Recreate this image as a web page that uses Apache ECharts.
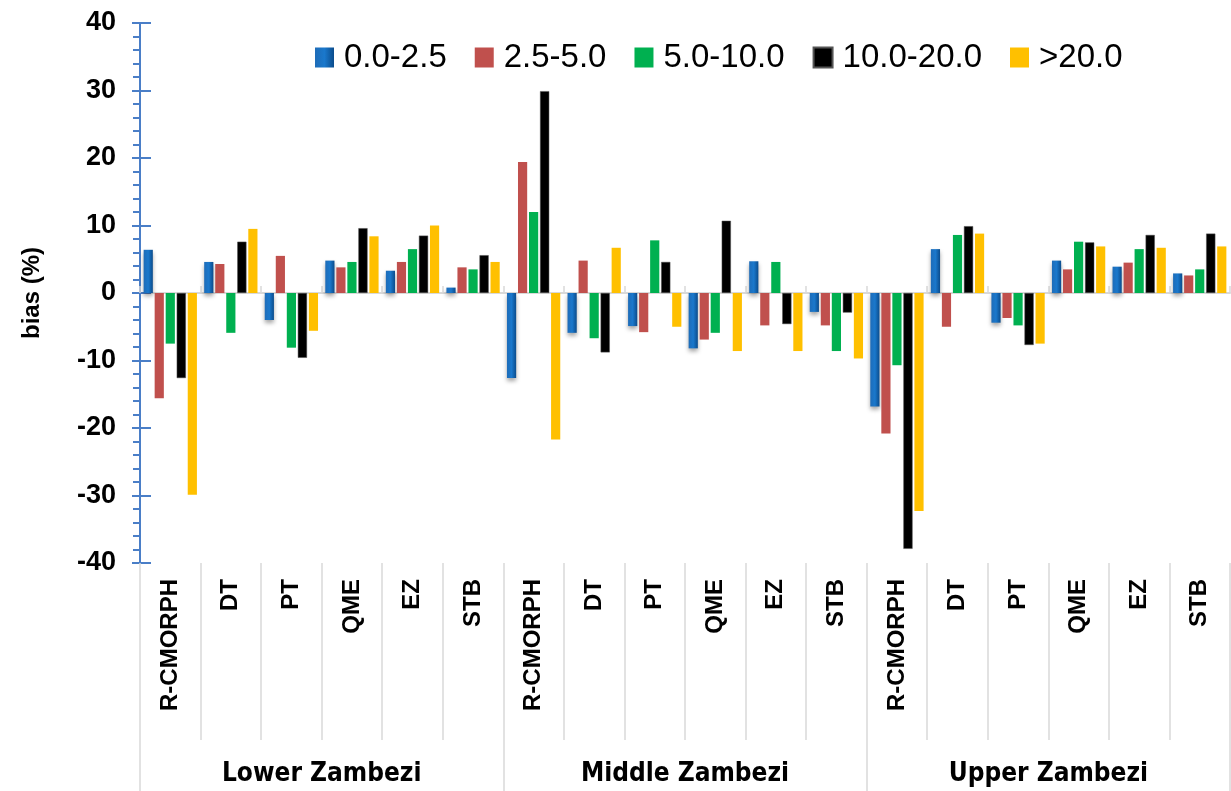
<!DOCTYPE html>
<html>
<head>
<meta charset="utf-8">
<script src="https://cdn.jsdelivr.net/npm/echarts@6/dist/echarts.min.js"></script>
<style>
  html, body { margin: 0; padding: 0; background: #fff; }
  #chart { width: 1231px; height: 791px; }
</style>
</head>
<body>
<div id="chart"></div>
<script>
// categories (products) and regions
var products = ['R-CMORPH', 'DT', 'PT', 'QME', 'EZ', 'STB',
                'R-CMORPH', 'DT', 'PT', 'QME', 'EZ', 'STB',
                'R-CMORPH', 'DT', 'PT', 'QME', 'EZ', 'STB'];
var regions = ['Lower Zambezi', 'Middle Zambezi', 'Upper Zambezi'];
var yTicks = [-40, -30, -20, -10, 0, 10, 20, 30, 40];

// bias (%) per rain class
var names = ['0.0-2.5', '2.5-5.0', '5.0-10.0', '10.0-20.0', '>20.0'];
var bias00_25 = [6.4, 4.6, -4.0, 4.8, 3.3, 0.8, -12.6, -5.9, -4.9, -8.2, 4.7, -2.8, -16.8, 6.5, -4.4, 4.8, 3.9, 2.9];
var bias25_50 = [-15.6, 4.3, 5.5, 3.8, 4.6, 3.8, 19.4, 4.8, -5.8, -6.9, -4.8, -4.8, -20.8, -5.0, -3.7, 3.5, 4.5, 2.6];
var bias50_100 = [-7.5, -5.9, -8.1, 4.6, 6.5, 3.5, 12.0, -6.7, 7.8, -5.9, 4.6, -8.6, -10.7, 8.6, -4.8, 7.6, 6.5, 3.5];
var bias100_200 = [-12.6, 7.6, -9.6, 9.6, 8.5, 5.6, 29.9, -8.8, 4.6, 10.7, -4.6, -2.9, -37.9, 9.9, -7.7, 7.5, 8.6, 8.8];
var bias200 = [-29.9, 9.5, -5.6, 8.4, 10.0, 4.6, -21.7, 6.7, -5.0, -8.6, -8.6, -9.7, -32.3, 8.8, -7.5, 6.9, 6.7, 6.9];

var allData = [bias00_25, bias25_50, bias50_100, bias100_200, bias200];

var blueGrad = new echarts.graphic.LinearGradient(0, 0, 1, 0, [
    { offset: 0, color: '#1E6CB8' },
    { offset: 0.5, color: '#1A78CC' },
    { offset: 1, color: '#0B4C8C' }
]);
var colors = [blueGrad, '#C0504D', '#00B050', '#000000', '#FFC000'];

var boldFont = "'Liberation Sans', Arial, sans-serif";
var axisBlue = '#4A7EC7';
var sepGray = '#D9D9D9';

var chart = echarts.init(document.getElementById('chart'));

var series = allData.map(function (d, i) {
    var s = {
        name: names[i],
        type: 'bar',
        xAxisIndex: 0,
        yAxisIndex: 0,
        data: d,
        barGap: '20%',
        barCategoryGap: '12%',
        itemStyle: { color: colors[i] }
    };
    if (i === 0) {
        s.itemStyle.shadowColor = 'rgba(0,0,0,0.35)';
        s.itemStyle.shadowBlur = 4;
        s.itemStyle.shadowOffsetY = 3;
    }
    if (i === 3) {
        s.itemStyle.borderColor = '#555';
        s.itemStyle.borderWidth = 0.5;
    }
    return s;
});

var option = {
    animation: false,
    backgroundColor: '#fff',
    legend: {
        top: 36,
        left: 310,
        itemWidth: 19,
        itemHeight: 20,
        itemGap: 28,
        icon: 'rect',
        textStyle: {
            fontFamily: boldFont,
            fontSize: 33,
            color: '#000',
            padding: [0, 0, 0, 5]
        },
        data: names
    },
    grid: { left: 140, right: 1, top: 23, bottom: 228, containLabel: false },
    xAxis: [
        {
            type: 'category',
            data: products,
            position: 'bottom',
            axisLine: { show: false, onZero: false },
            axisTick: { show: true, interval: 0, length: 177, lineStyle: { color: sepGray, width: 1.5 } },
            axisLabel: {
                interval: 0,
                rotate: 90,
                margin: 16,
                fontFamily: boldFont,
                fontWeight: 'bold',
                fontSize: 24,
                color: '#000'
            }
        },
        {
            type: 'category',
            data: regions,
            position: 'bottom',
            axisLine: { show: false, onZero: false },
            axisTick: { show: true, interval: 0, length: 228, lineStyle: { color: sepGray, width: 1.5 } },
            axisLabel: {
                interval: 0,
                margin: 198,
                fontFamily: "'DejaVu Sans Condensed', 'Liberation Sans', sans-serif",
                fontWeight: 'bold',
                fontSize: 26,
                color: '#000'
            }
        },
        {
            type: 'category',
            data: products,
            position: 'bottom',
            axisLine: { show: true, onZero: true, lineStyle: { color: sepGray, width: 2 } },
            axisTick: { show: true, inside: true, interval: 0, length: 7, lineStyle: { color: sepGray, width: 1.5 } },
            axisLabel: { show: false }
        }
    ],
    yAxis: [
        {
            type: 'value',
            min: -40,
            max: 40,
            interval: 10,
            name: 'bias (%)',
            nameLocation: 'middle',
            nameGap: 96,
            nameRotate: 90,
            nameTextStyle: {
                fontFamily: boldFont,
                fontWeight: 'bold',
                fontSize: 24,
                color: '#000'
            },
            axisLine: { show: true, lineStyle: { color: axisBlue, width: 2 } },
            axisTick: { show: true, length: 8, lineStyle: { color: axisBlue, width: 2 } },
            minorTick: { show: true, splitNumber: 5, length: 7, lineStyle: { color: axisBlue, width: 2 } },
            splitLine: { show: false },
            axisLabel: {
                margin: 24,
                fontFamily: boldFont,
                fontWeight: 'bold',
                fontSize: 27,
                color: '#000',
                customValues: yTicks
            }
        },
        {
            type: 'value',
            min: -40,
            max: 40,
            interval: 10,
            position: 'left',
            axisLine: { show: false },
            axisTick: { show: true, inside: true, length: 11, lineStyle: { color: axisBlue, width: 2 } },
            splitLine: { show: false },
            axisLabel: { show: false }
        }
    ],
    series: series
};

chart.setOption(option);
</script>
</body>
</html>
